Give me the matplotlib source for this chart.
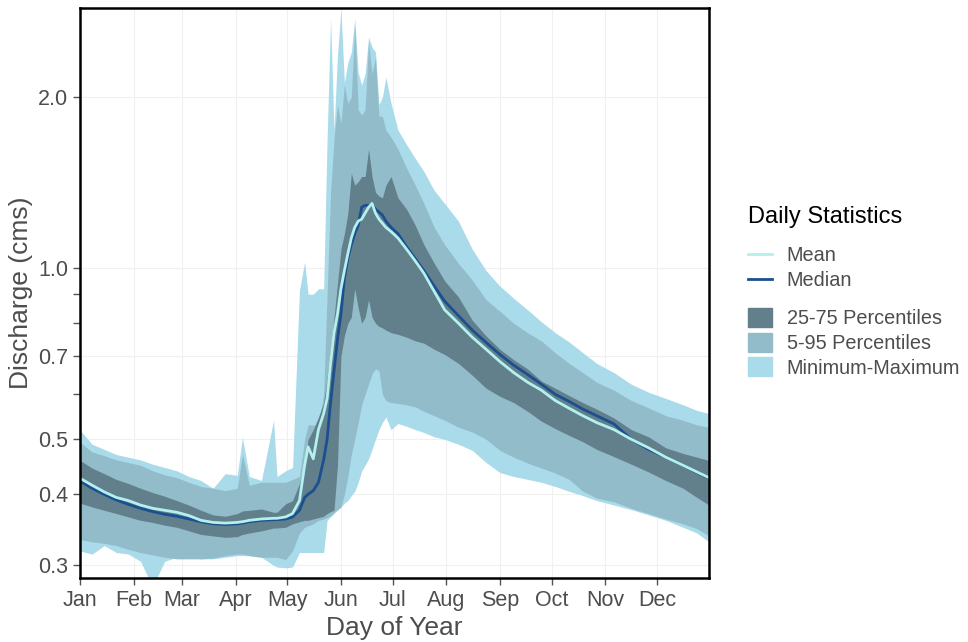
import matplotlib
matplotlib.use("Agg")
import matplotlib.pyplot as plt
from matplotlib.patches import Patch
from matplotlib.lines import Line2D
from matplotlib.ticker import FixedLocator, NullFormatter, NullLocator

plt.rcParams['font.family'] = ['Liberation Sans', 'DejaVu Sans']

# daily statistics (discharge, cms)
days = [1, 8, 15, 22, 29, 36, 43, 50, 57, 64, 71, 78, 85, 92, 95, 99, 106, 113, 115, 120,
        124, 128, 131, 133, 136, 139, 142, 144, 146, 148, 150, 152, 154, 156, 158, 160,
        162, 164, 166, 168, 170, 172, 174, 176, 178, 181, 185, 190, 195, 200, 206, 212,
        220, 228, 236, 244, 252, 260, 268, 276, 284, 292, 300, 310, 320, 330, 340, 350,
        358, 365]

q_min = [0.318, 0.314, 0.325, 0.316, 0.314, 0.305, 0.275, 0.305, 0.31, 0.31, 0.308, 0.308,
         0.31, 0.312, 0.312, 0.312, 0.31, 0.30, 0.298, 0.297, 0.298, 0.316, 0.316, 0.316,
         0.316, 0.316, 0.316, 0.36, 0.365, 0.37, 0.375, 0.38, 0.386, 0.39, 0.398, 0.405,
         0.42, 0.44, 0.45, 0.462, 0.48, 0.50, 0.52, 0.535, 0.547, 0.52, 0.533, 0.527, 0.52,
         0.514, 0.505, 0.50, 0.49, 0.478, 0.455, 0.437, 0.43, 0.425, 0.42, 0.413, 0.405,
         0.398, 0.39, 0.383, 0.376, 0.368, 0.36, 0.35, 0.342, 0.33]

q_p5 = [0.333, 0.33, 0.328, 0.325, 0.32, 0.316, 0.313, 0.31, 0.308, 0.308, 0.308, 0.309,
        0.312, 0.314, 0.314, 0.312, 0.31, 0.31, 0.31, 0.307, 0.318, 0.342, 0.35, 0.352,
        0.355, 0.36, 0.362, 0.364, 0.367, 0.372, 0.376, 0.38, 0.40, 0.43, 0.47, 0.50,
        0.535, 0.575, 0.60, 0.625, 0.652, 0.665, 0.66, 0.60, 0.585, 0.58, 0.578, 0.575,
        0.57, 0.56, 0.55, 0.54, 0.525, 0.515, 0.50, 0.478, 0.465, 0.454, 0.445, 0.436,
        0.425, 0.405, 0.394, 0.388, 0.378, 0.37, 0.362, 0.355, 0.348, 0.338]

q_p25 = [0.386, 0.38, 0.375, 0.37, 0.365, 0.36, 0.357, 0.353, 0.35, 0.345, 0.34, 0.338,
         0.336, 0.337, 0.34, 0.342, 0.345, 0.349, 0.349, 0.35, 0.355, 0.358, 0.36, 0.36,
         0.362, 0.364, 0.366, 0.37, 0.373, 0.375, 0.45, 0.70, 0.76, 0.80, 0.82, 0.92,
         0.85, 0.80, 0.82, 0.88, 0.82, 0.80, 0.79, 0.785, 0.778, 0.77, 0.765, 0.756, 0.745,
         0.738, 0.72, 0.705, 0.68, 0.648, 0.615, 0.595, 0.58, 0.56, 0.538, 0.522, 0.508,
         0.495, 0.48, 0.466, 0.452, 0.438, 0.423, 0.41, 0.395, 0.383]

q_median = [0.422, 0.41, 0.40, 0.391, 0.384, 0.378, 0.373, 0.369, 0.366, 0.362, 0.358,
            0.355, 0.354, 0.355, 0.356, 0.358, 0.36, 0.361, 0.361, 0.362, 0.365, 0.375,
            0.395, 0.40, 0.406, 0.42, 0.46, 0.50, 0.58, 0.66, 0.75, 0.83, 0.96, 1.04, 1.10,
            1.15, 1.19, 1.28, 1.29, 1.29, 1.29, 1.27, 1.255, 1.24, 1.21, 1.18, 1.15, 1.09,
            1.04, 0.99, 0.93, 0.875, 0.825, 0.778, 0.74, 0.705, 0.675, 0.65, 0.625, 0.60,
            0.583, 0.565, 0.55, 0.532, 0.50, 0.48, 0.465, 0.45, 0.437, 0.427]

q_mean = [0.427, 0.415, 0.404, 0.395, 0.39, 0.383, 0.378, 0.375, 0.372, 0.367, 0.36,
          0.357, 0.356, 0.357, 0.358, 0.36, 0.362, 0.363, 0.363, 0.365, 0.37, 0.39, 0.45,
          0.485, 0.462, 0.52, 0.555, 0.59, 0.68, 0.77, 0.83, 0.92, 0.99, 1.06, 1.13, 1.18,
          1.21, 1.22, 1.25, 1.28, 1.30, 1.25, 1.22, 1.20, 1.18, 1.16, 1.13, 1.08, 1.03,
          0.98, 0.91, 0.845, 0.80, 0.756, 0.72, 0.685, 0.655, 0.63, 0.61, 0.585, 0.567,
          0.55, 0.535, 0.52, 0.50, 0.483, 0.465, 0.45, 0.438, 0.428]

q_p75 = [0.459, 0.445, 0.435, 0.425, 0.418, 0.41, 0.403, 0.397, 0.39, 0.383, 0.375, 0.368,
         0.366, 0.37, 0.374, 0.375, 0.377, 0.372, 0.372, 0.385, 0.39, 0.418, 0.454, 0.50,
         0.52, 0.547, 0.58, 0.643, 0.72, 0.82, 0.94, 1.08, 1.15, 1.25, 1.47, 1.40, 1.42,
         1.45, 1.45, 1.62, 1.45, 1.36, 1.34, 1.33, 1.40, 1.45, 1.33, 1.27, 1.19, 1.10, 1.02,
         0.95, 0.89, 0.81, 0.76, 0.72, 0.69, 0.665, 0.633, 0.615, 0.597, 0.58, 0.565, 0.545,
         0.52, 0.505, 0.483, 0.472, 0.465, 0.459]

q_p95 = [0.494, 0.475, 0.468, 0.46, 0.455, 0.45, 0.44, 0.433, 0.428, 0.42, 0.413, 0.41,
         0.406, 0.41, 0.47, 0.415, 0.42, 0.42, 0.42, 0.42, 0.425, 0.43, 0.50, 0.53, 0.53,
         0.53, 0.60, 0.90, 1.36, 1.69, 1.94, 1.80, 2.10, 1.95, 2.00, 2.68, 1.90, 1.86, 1.90,
         2.50, 2.20, 2.35, 1.85, 1.85, 1.75, 1.70, 1.62, 1.50, 1.40, 1.30, 1.18, 1.10, 1.02,
         0.953, 0.88, 0.84, 0.80, 0.77, 0.745, 0.71, 0.68, 0.655, 0.63, 0.61, 0.585, 0.568,
         0.55, 0.54, 0.53, 0.525]

q_max = [0.519, 0.49, 0.48, 0.47, 0.465, 0.46, 0.452, 0.446, 0.44, 0.43, 0.423, 0.41,
         0.435, 0.432, 0.504, 0.43, 0.423, 0.54, 0.43, 0.44, 0.446, 0.915, 1.025, 0.90,
         0.90, 0.92, 0.92, 1.69, 2.75, 1.75, 2.37, 2.85, 2.12, 2.30, 2.40, 2.75, 2.21, 2.10,
         2.20, 2.55, 2.45, 2.40, 1.94, 2.00, 2.17, 1.95, 1.75, 1.65, 1.56, 1.48, 1.37, 1.30,
         1.21, 1.08, 0.99, 0.93, 0.885, 0.845, 0.805, 0.77, 0.742, 0.71, 0.68, 0.655, 0.625,
         0.605, 0.59, 0.575, 0.562, 0.555]

month_days = [1, 32, 60, 91, 121, 152, 182, 213, 244, 274, 305, 335]
month_labels = ['Jan', 'Feb', 'Mar', 'Apr', 'May', 'Jun', 'Jul', 'Aug', 'Sep', 'Oct', 'Nov', 'Dec']
y_major = [0.3, 0.4, 0.5, 0.7, 1.0, 2.0]
y_minor = [0.6, 0.8, 0.9]

c_minmax = '#a9dbea'
c_p5 = '#93bccb'
c_p25 = '#62808b'
c_mean = '#b4f0ee'
c_median = '#1c4f8f'
txt = '#4d4d4d'

fig = plt.figure(figsize=(9.68, 6.42), dpi=100)
ax = fig.add_axes([80 / 968, 1 - 578 / 642, 629 / 968, 570 / 642])

ax.fill_between(days, q_min, q_max, color=c_minmax, lw=0)
ax.fill_between(days, q_p5, q_p95, color=c_p5, lw=0)
ax.fill_between(days, q_p25, q_p75, color=c_p25, lw=0)
ax.plot(days, q_median, color=c_median, lw=2.0)
ax.plot(days, q_mean, color=c_mean, lw=2.0)

ax.set_yscale('log')
ax.set_xlim(1, 365)
ax.set_ylim(0.285, 2.87)
ax.yaxis.set_major_locator(FixedLocator(y_major))
ax.yaxis.set_minor_locator(FixedLocator(y_minor))
ax.yaxis.set_minor_formatter(NullFormatter())
ax.set_yticklabels(['%.1f' % v for v in y_major])
ax.set_xticks(month_days)
ax.set_xticklabels(month_labels)
ax.xaxis.set_minor_locator(NullLocator())

ax.grid(True, which='major', color='#f0f0f0', lw=0.8)
ax.set_axisbelow(True)
ax.tick_params(axis='both', which='both', colors='#555555', labelcolor=txt,
               labelsize=15.5, length=5, width=1)
for s in ax.spines.values():
    s.set_color('black')
    s.set_linewidth(1.8)

ax.set_xlabel('Day of Year', fontsize=19, color=txt, labelpad=4)
ax.set_ylabel('Discharge (cms)', fontsize=19, color=txt, labelpad=4)

# legend: title as text, then lines group and patches group
fig.text(748 / 968, 1 - 217 / 642, 'Daily Statistics', fontsize=17, color='black',
         ha='left', va='center')
line_handles = [Line2D([], [], color=c_mean, lw=2), Line2D([], [], color=c_median, lw=2)]
leg1 = fig.legend(line_handles, ['Mean', 'Median'], loc='upper left',
                  bbox_to_anchor=(748 / 968, 1 - 246 / 642), frameon=False,
                  borderpad=0, borderaxespad=0, fontsize=14.3,
                  handlelength=1.2, handletextpad=0.75, labelspacing=0.3,
                  labelcolor=txt)
patch_handles = [Patch(color=c_p25), Patch(color=c_p5), Patch(color=c_minmax)]
leg2 = fig.legend(patch_handles, ['25-75 Percentiles', '5-95 Percentiles', 'Minimum-Maximum'],
                  loc='upper left', bbox_to_anchor=(748 / 968, 1 - 308 / 642), frameon=False,
                  borderpad=0, borderaxespad=0, fontsize=14.3,
                  handlelength=1.2, handleheight=1.1, handletextpad=0.75,
                  labelspacing=0.22, labelcolor=txt)

fig.savefig('out.png', dpi=100)
